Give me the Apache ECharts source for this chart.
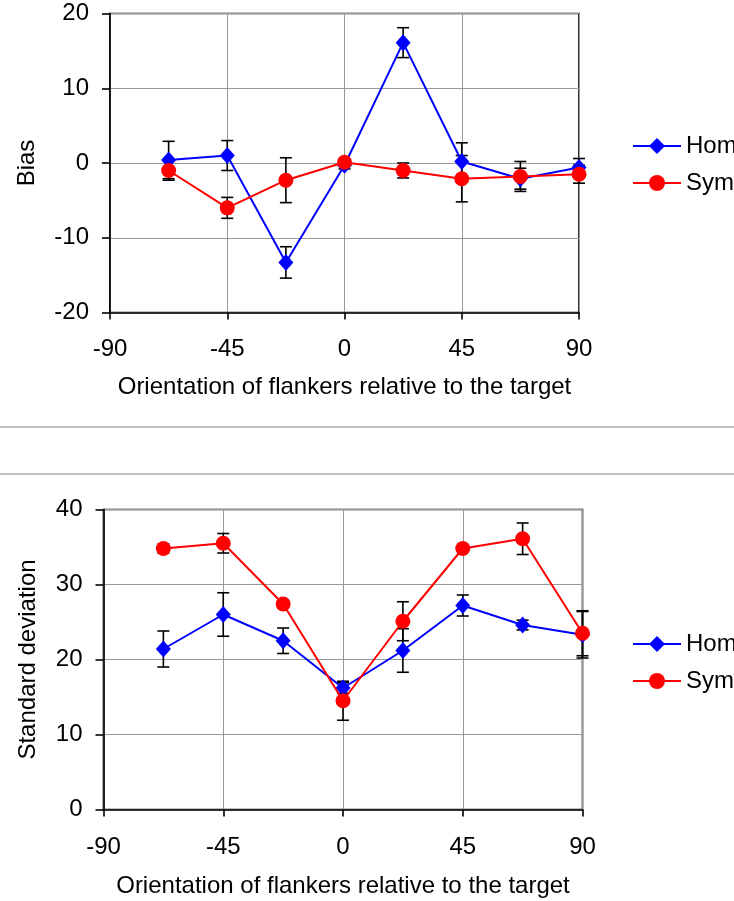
<!DOCTYPE html>
<html>
<head>
<meta charset="utf-8">
<script src="https://cdn.jsdelivr.net/npm/echarts@6/dist/echarts.min.js"></script>
<style>
html,body{margin:0;padding:0;background:#fff;}
#main{width:734px;height:901px;}
</style>
</head>
<body>
<div id="main"></div>
<script>
// ---- data ----
const orientations = [-67.5, -45, -22.5, 0, 22.5, 45, 67.5, 90];
const xTicks = [-90, -45, 0, 45, 90];
const biasHom = [0.4, 1.0, -13.3, -0.3, 16.1, 0.2, -2.1, -0.6];
const biasHomErr = [2.5, 2.0, 2.1, 0.5, 2.0, 2.5, 1.4, 1.2];
const biasSym = [-1.0, -6.0, -2.3, 0.1, -1.0, -2.1, -1.8, -1.5];
const biasSymErr = [1.3, 1.4, 3.0, 0.4, 1.0, 3.1, 2.0, 1.2];
const sdHom = [21.4, 26.0, 22.5, 16.2, 21.2, 27.2, 24.6, 23.3];
const sdHomErr = [2.4, 2.9, 1.7, 0.7, 2.9, 1.4, 0.65, 3.1];
const sdSym = [34.8, 35.5, 27.4, 14.5, 25.1, 34.8, 36.1, 23.5];
const sdSymErr = [0.6, 1.3, 0.5, 2.6, 2.6, 0.3, 2.1, 3.0];
const seriesNames = ['Hom', 'Sym'];
const xTitle = 'Orientation of flankers relative to the target';
const yTitles = ['Bias', 'Standard deviation'];

// ---- helpers ----
const FONT = "'Liberation Sans', Arial, sans-serif";
const BLUE = '#0000ff', RED = '#ff0000';
function pts(vals) { return orientations.map((x, i) => [x, vals[i]]); }
function errPts(vals, errs) { return orientations.map((x, i) => [x, vals[i], errs[i]]); }
function errRender(params, api) {
  const x = api.value(0), y = api.value(1), e = api.value(2);
  const t = api.coord([x, y + e]);
  const b = api.coord([x, y - e]);
  const hw = 6;
  const st = { stroke: '#000', lineWidth: 1.6 };
  return {
    type: 'group',
    children: [
      { type: 'line', shape: { x1: t[0], y1: t[1], x2: b[0], y2: b[1] }, style: st },
      { type: 'line', shape: { x1: t[0] - hw, y1: t[1], x2: t[0] + hw, y2: t[1] }, style: st },
      { type: 'line', shape: { x1: b[0] - hw, y1: b[1], x2: b[0] + hw, y2: b[1] }, style: st }
    ]
  };
}
function xAxis(gi, margin, gap) {
  return {
    type: 'value', gridIndex: gi, min: xTicks[0], max: xTicks[xTicks.length - 1], interval: 45,
    name: xTitle, nameLocation: 'middle', nameGap: gap,
    nameTextStyle: { fontFamily: FONT, fontSize: 24, color: '#000' },
    axisLine: { show: true, onZero: false, lineStyle: { color: '#000', width: 1.6 } },
    axisTick: { show: true, inside: false, length: 7, lineStyle: { color: '#000', width: 1.6 } },
    axisLabel: { fontFamily: FONT, fontSize: 24, color: '#000', margin: margin, showMinLabel: true, showMaxLabel: true },
    splitLine: { show: true, lineStyle: { color: '#999', width: 1 } }
  };
}
function yAxis(gi, min, max, name, gap) {
  return {
    type: 'value', gridIndex: gi, min: min, max: max, interval: 10,
    name: name, nameLocation: 'middle', nameGap: gap, nameRotate: 90,
    nameTextStyle: { fontFamily: FONT, fontSize: 24, color: '#000' },
    axisLine: { show: true, onZero: false, lineStyle: { color: '#000', width: 1.6 } },
    axisTick: { show: true, inside: false, length: 8, lineStyle: { color: '#000', width: 1.6 } },
    axisLabel: { fontFamily: FONT, fontSize: 24, color: '#000', margin: 21, showMinLabel: true, showMaxLabel: true },
    splitLine: { show: true, lineStyle: { color: '#999', width: 1 } }
  };
}
function lineSeries(name, gi, data, color, symbol, size, z) {
  return {
    type: 'line', name: name, xAxisIndex: gi, yAxisIndex: gi, data: data,
    symbol: symbol, symbolSize: size, showSymbol: true,
    lineStyle: { color: color, width: 2 }, itemStyle: { color: color },
    z: z, animation: false, emphasis: { disabled: true }
  };
}
function errSeries(name, gi, data) {
  return {
    type: 'custom', name: name, xAxisIndex: gi, yAxisIndex: gi, data: data,
    renderItem: errRender, encode: { x: 0, y: [1] }, z: 1, animation: false, silent: true
  };
}
function legend(top) {
  return {
    data: seriesNames, orient: 'vertical', left: 627, top: top,
    itemWidth: 48, itemHeight: 20, itemGap: 13,
    textStyle: { fontFamily: FONT, fontSize: 24, color: '#000' },
    selectedMode: false
  };
}

const chart = echarts.init(document.getElementById('main'), null, { renderer: 'canvas' });
chart.setOption({
  backgroundColor: '#fff',
  animation: false,
  grid: [
    { left: 110, top: 13.5, width: 469, height: 299, show: true, borderColor: '#000', borderWidth: 1.6 },
    { left: 103.5, top: 509.5, width: 479, height: 300, show: true, borderColor: '#000', borderWidth: 1.6 }
  ],
  xAxis: [xAxis(0, 25, 63), xAxis(1, 26, 65)],
  yAxis: [yAxis(0, -20, 20, yTitles[0], 71), yAxis(1, 0, 40, yTitles[1], 63)],
  legend: [legend(129), legend(627)],
  graphic: [
    { type: 'line', shape: { x1: 0, y1: 427, x2: 734, y2: 427 }, style: { stroke: '#aaa', lineWidth: 1.5 } },
    { type: 'line', shape: { x1: 0, y1: 474, x2: 734, y2: 474 }, style: { stroke: '#aaa', lineWidth: 1.5 } }
  ],
  series: [
    errSeries('Hom err', 0, errPts(biasHom, biasHomErr)),
    errSeries('Sym err', 0, errPts(biasSym, biasSymErr)),
    lineSeries(seriesNames[0], 0, pts(biasHom), BLUE, 'diamond', [15, 17], 2),
    lineSeries(seriesNames[1], 0, pts(biasSym), RED, 'circle', 15, 3),
    errSeries('Hom err', 1, errPts(sdHom, sdHomErr)),
    errSeries('Sym err', 1, errPts(sdSym, sdSymErr)),
    lineSeries(seriesNames[0], 1, pts(sdHom), BLUE, 'diamond', [15, 17], 2),
    lineSeries(seriesNames[1], 1, pts(sdSym), RED, 'circle', 15, 3)
  ]
});
</script>
</body>
</html>
